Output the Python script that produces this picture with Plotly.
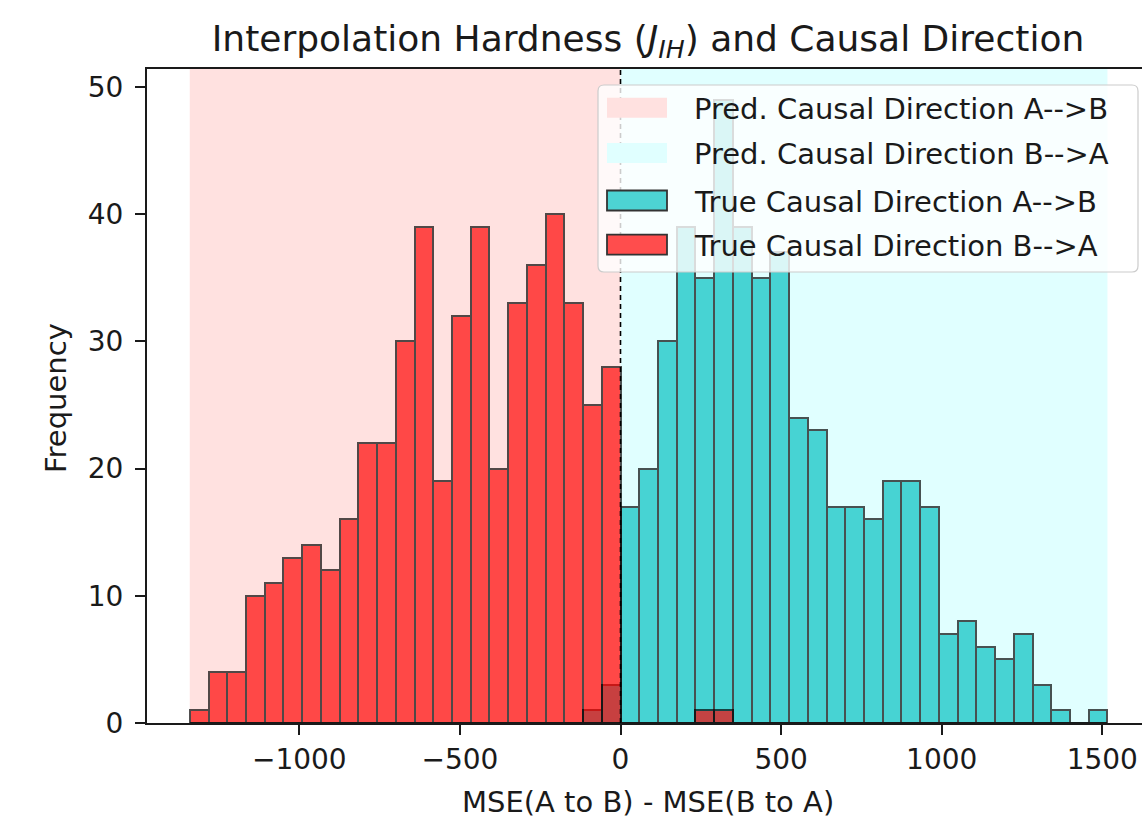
import numpy as np
import plotly.graph_objects as go

# ---------------- data ----------------
bin_lo = -1341.0          # smallest MSE difference
bin_hi = 1516.0           # largest MSE difference
n_bins = 49
decision_threshold = 0.0  # predicted direction flips at 0

# counts per bin, true direction A-->B (teal)
true_ab_counts = [0, 0, 0, 0, 0, 0, 0, 0, 0, 0, 0, 0, 0, 0, 0, 0, 0, 0, 0, 0, 0, 1, 3,
                  17, 20, 30, 39, 35, 49, 39, 35, 37, 24, 23, 17, 17, 16, 19, 19, 17,
                  7, 8, 6, 5, 7, 3, 1, 0, 1]
# counts per bin, true direction B-->A (red)
true_ba_counts = [1, 4, 4, 10, 11, 13, 14, 12, 16, 22, 22, 30, 39, 19, 32, 39, 20, 33, 36, 40, 33, 25, 28,
                  0, 0, 0, 0, 1, 1, 0, 0, 0, 0, 0, 0, 0, 0, 0, 0, 0,
                  0, 0, 0, 0, 0, 0, 0, 0, 0]

x_ticks = [-1000, -500, 0, 500, 1000, 1500]
y_ticks = [0, 10, 20, 30, 40, 50]

legend_labels = ["Pred. Causal Direction A-->B", "Pred. Causal Direction B-->A",
                 "True Causal Direction A-->B", "True Causal Direction B-->A"]

title_text = "Interpolation Hardness (<i>J</i><sub><i>IH</i></sub>) and Causal Direction"
x_title = "MSE(A to B) - MSE(B to A)"
y_title = "Frequency"

# ---------------- styling / layout ----------------
W, H = 1142, 819
ML, MR, MT, MB = 147, 0, 69, 96
PW = W - ML - MR
PH = H - MT - MB
FONT = "DejaVu Sans"
INK = "#1a1a1a"

def px_x(px):
    return (px - ML) / PW

def px_y(py):
    return (H - MB - py) / PH

edges = np.linspace(bin_lo, bin_hi, n_bins + 1)
centers = (edges[:-1] + edges[1:]) / 2
widths = np.diff(edges)

fig = go.Figure()
fig.add_trace(go.Bar(x=centers, y=true_ab_counts, width=widths,
                     marker=dict(color="#00bfbf", line=dict(color="black", width=2)),
                     opacity=0.68, showlegend=False, name=legend_labels[2]))
fig.add_trace(go.Bar(x=centers, y=true_ba_counts, width=widths,
                     marker=dict(color="#ff0000", line=dict(color="black", width=2)),
                     opacity=0.68, showlegend=False, name=legend_labels[3]))

shapes = []
# predicted-direction shading
shapes.append(dict(type="rect", xref="x", yref="paper", x0=edges[0], x1=decision_threshold,
                   y0=0, y1=1, fillcolor="#ffe1e0", line=dict(width=0), layer="below"))
shapes.append(dict(type="rect", xref="x", yref="paper", x0=decision_threshold, x1=edges[-1],
                   y0=0, y1=1, fillcolor="#e0ffff", line=dict(width=0), layer="below"))
# dashed threshold line
shapes.append(dict(type="line", xref="x", yref="paper", x0=decision_threshold, x1=decision_threshold,
                   y0=0, y1=1, line=dict(color="black", width=1.6, dash="5px,4px"), layer="above"))

# manual legend box (rounded)
bx0, bx1 = px_x(598), px_x(1138)
by0, by1 = px_y(272), px_y(85)
rx, ry = 6 / PW, 6 / PH
path = (f"M {bx0+rx},{by1} L {bx1-rx},{by1} Q {bx1},{by1} {bx1},{by1-ry} "
        f"L {bx1},{by0+ry} Q {bx1},{by0} {bx1-rx},{by0} L {bx0+rx},{by0} "
        f"Q {bx0},{by0} {bx0},{by0+ry} L {bx0},{by1-ry} Q {bx0},{by1} {bx0+rx},{by1} Z")
shapes.append(dict(type="path", xref="paper", yref="paper", path=path,
                   fillcolor="rgba(255,255,255,0.8)", line=dict(color="#cccccc", width=1.2),
                   layer="above"))

row_centers = [107.7, 153.0, 200.5, 244.7]
patch_fill = ["#ffe1e0", "#e0ffff", "#4dd3d3", "#ff4d4d"]
patch_line = [None, None, "#333333", "#333333"]
annotations = []
for lab, cy, fc, lc in zip(legend_labels, row_centers, patch_fill, patch_line):
    shapes.append(dict(type="rect", xref="paper", yref="paper",
                       x0=px_x(607), x1=px_x(667), y0=px_y(cy + 10), y1=px_y(cy - 10),
                       fillcolor=fc,
                       line=dict(color=lc if lc else fc, width=1.8 if lc else 0),
                       layer="above"))
    annotations.append(dict(text=lab, xref="paper", yref="paper", x=px_x(692), y=px_y(cy + 1),
                            xanchor="left", yanchor="middle", showarrow=False,
                            font=dict(family=FONT, size=29, color=INK)))

# axis titles
annotations.append(dict(text=x_title, xref="paper", yref="paper", x=px_x(648), y=px_y(802),
                        xanchor="center", yanchor="middle", showarrow=False,
                        font=dict(family=FONT, size=29, color=INK)))
annotations.append(dict(text=y_title, xref="paper", yref="paper", x=px_x(56), y=px_y(398),
                        xanchor="center", yanchor="middle", textangle=-90, showarrow=False,
                        font=dict(family=FONT, size=29, color=INK)))

fig.update_layout(
    width=W, height=H,
    margin=dict(l=ML, r=MR, t=MT, b=MB, pad=0),
    paper_bgcolor="white", plot_bgcolor="white",
    barmode="overlay", bargap=0,
    showlegend=False,
    shapes=shapes, annotations=annotations,
    font=dict(family=FONT, color=INK),
    title=dict(text=title_text, x=px_x(648), xref="paper", xanchor="center",
               y=1 - 38 / H, yref="container", yanchor="middle",
               font=dict(family=FONT, size=36, color=INK)),
)
fig.update_xaxes(range=[(ML - 620.5) / 0.3212, (W - 620.5) / 0.3212],
                 tickvals=x_ticks, ticks="outside", ticklen=10, tickwidth=2, tickcolor=INK,
                 showline=True, linecolor=INK, linewidth=2, mirror=True,
                 showgrid=False, zeroline=False,
                 tickfont=dict(family=FONT, size=28, color=INK))
fig.update_yaxes(range=[0, 51.4], tickvals=y_ticks, ticks="outside", ticklen=10, tickwidth=2,
                 tickcolor=INK, showline=True, linecolor=INK, linewidth=2, mirror=False,
                 showgrid=False, zeroline=False, ticklabelstandoff=6,
                 tickfont=dict(family=FONT, size=28, color=INK))

fig.write_html("out.html", config={"displayModeBar": False},
               post_script="document.body.style.margin='0px';document.body.style.overflow='hidden';")
